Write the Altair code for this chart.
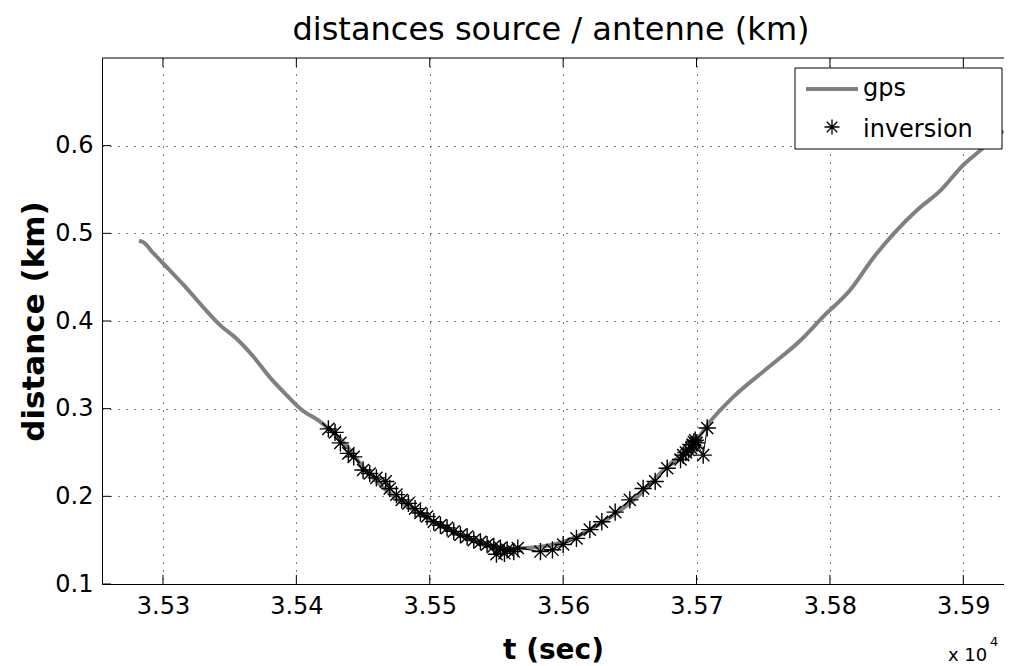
import altair as alt
import pandas as pd

# ---------------- data ----------------
gps_t = [35282, 35285, 35293, 35305, 35318, 35330, 35343, 35355, 35368, 35380,
         35393, 35403, 35418, 35435, 35453, 35478, 35503, 35528, 35553, 35573,
         35600, 35628, 35653, 35678, 35700, 35708, 35728, 35753, 35778, 35795,
         35815, 35833, 35848, 35865, 35883, 35900, 35913, 35930]
gps_d = [0.4915, 0.490, 0.477, 0.458, 0.437, 0.416, 0.395, 0.380, 0.359, 0.336,
         0.315, 0.300, 0.285, 0.262, 0.228, 0.194, 0.171, 0.152, 0.140, 0.141,
         0.148, 0.169, 0.196, 0.234, 0.264, 0.281, 0.314, 0.346, 0.378, 0.405,
         0.435, 0.473, 0.500, 0.526, 0.549, 0.578, 0.595, 0.617]

inv_t = [35424, 35429, 35433, 35439, 35443, 35450, 35455, 35460, 35467, 35470,
         35475, 35479, 35484, 35489, 35493, 35498, 35503, 35508, 35513, 35518,
         35523, 35528, 35533, 35538, 35543, 35548, 35550, 35553, 35556, 35558,
         35563, 35566,
         35583, 35592, 35600, 35610, 35620, 35629, 35639, 35650, 35660, 35669,
         35678, 35688, 35690, 35692, 35694, 35696, 35697, 35698, 35699, 35700,
         35705, 35708]
inv_d = [0.277, 0.273, 0.261, 0.249, 0.245, 0.230, 0.226, 0.221, 0.217, 0.209,
         0.202, 0.196, 0.192, 0.186, 0.181, 0.177, 0.171, 0.167, 0.164, 0.160,
         0.156, 0.154, 0.150, 0.148, 0.145, 0.143, 0.134, 0.141, 0.135, 0.139,
         0.137, 0.141,
         0.137, 0.139, 0.145, 0.152, 0.162, 0.171, 0.182, 0.196, 0.209, 0.217,
         0.232, 0.242, 0.247, 0.250, 0.253, 0.255, 0.259, 0.262, 0.264, 0.261,
         0.247, 0.278]

x_ticks = [35300, 35400, 35500, 35600, 35700, 35800, 35900]
y_ticks = [0.1, 0.2, 0.3, 0.4, 0.5, 0.6]
legend_labels = ["gps", "inversion"]
title_text = ["distances source / antenne (km)"]
x_title = "t (sec)"
y_title = "distance (km)"
exp_base = ["x 10"]
exp_power = ["4"]

# ---------------- layout / style ----------------
W, H = 902, 526
x_dom = [35254.3, 35930.5]
y_dom = [0.1, 0.7]
FONT = "DejaVu Sans"
GRAY = "#808080"
STAR = "M-1,0L1,0M0,-1L0,1M-0.7,-0.7L0.7,0.7M-0.7,0.7L0.7,-0.7"

gps = pd.DataFrame({"t": gps_t, "d": gps_d})
inv = pd.DataFrame({"t": inv_t, "d": inv_d})
xt = pd.DataFrame({"t": x_ticks})
yt = pd.DataFrame({"d": y_ticks})
one = pd.DataFrame({"k": [0]})

xscale = alt.Scale(domain=x_dom, nice=False, zero=False)
yscale = alt.Scale(domain=y_dom, nice=False, zero=False)

xaxis = alt.Axis(values=x_ticks, labelExpr="format(datum.value/10000, '.2f')",
                 title=x_title, grid=True, gridDash=[1, 7], gridColor="black",
                 gridWidth=1, ticks=False, labelPadding=10, labelFontSize=24,
                 labelFont=FONT, labelColor="black", domainColor="black",
                 domainWidth=1, titleFont=FONT, titleFontSize=28,
                 titleFontWeight="bold", titleColor="black",
                 titleBaseline="alphabetic", titleY=74, labelFlush=False)
yaxis = alt.Axis(values=y_ticks, format=".1f", title=y_title, grid=True,
                 gridDash=[1, 7], gridColor="black", gridWidth=1, ticks=False,
                 labelPadding=9, labelFontSize=24, labelFont=FONT,
                 labelColor="black", domainColor="black", domainWidth=1,
                 titleFont=FONT, titleFontSize=31, titleFontWeight="bold",
                 titleColor="black", titleAngle=270, titleBaseline="alphabetic",
                 titleX=-59, labelFlush=False)

X = alt.X("t:Q", scale=xscale, axis=xaxis)
Y = alt.Y("d:Q", scale=yscale, axis=yaxis)

gps_line = alt.Chart(gps).mark_line(color=GRAY, strokeWidth=4,
                                    interpolate="monotone").encode(x=X, y=Y)
inv_line = alt.Chart(inv).mark_line(color="black", strokeWidth=1).encode(x=X, y=Y)
inv_pts = alt.Chart(inv).mark_point(shape=STAR, size=300, filled=False,
                                    color="black", strokeWidth=1.4,
                                    opacity=1).encode(x=X, y=Y)

tick_bottom = alt.Chart(xt).mark_rule(color="black").encode(
    x=X, y=alt.value(H), y2=alt.value(H - 9))
tick_top = alt.Chart(xt).mark_rule(color="black").encode(
    x=X, y=alt.value(0), y2=alt.value(9))
tick_left = alt.Chart(yt).mark_rule(color="black").encode(
    y=Y, x=alt.value(0), x2=alt.value(9))
top_border = alt.Chart(one).mark_rule(color="black").encode(
    x=alt.value(0), x2=alt.value(W), y=alt.value(0))

title_mark = alt.Chart(pd.DataFrame({"label": title_text})).mark_text(
    font=FONT, fontSize=32, align="center", baseline="alphabetic", color="black").encode(
    text="label:N", x=alt.value(W / 2 - 2), y=alt.value(-18))

leg_box = alt.Chart(one).mark_rect(fill="white", stroke="black", strokeWidth=1).encode(
    x=alt.value(693), x2=alt.value(900), y=alt.value(10), y2=alt.value(91))
leg_line = alt.Chart(one).mark_rule(color=GRAY, strokeWidth=4).encode(
    x=alt.value(704), x2=alt.value(756), y=alt.value(31))
leg_star = alt.Chart(one).mark_point(shape=STAR, size=225, filled=False,
                                     color="black", strokeWidth=1.3, opacity=1).encode(
    x=alt.value(730), y=alt.value(69))
leg_t1 = alt.Chart(pd.DataFrame({"label": [legend_labels[0]]})).mark_text(
    font=FONT, fontSize=24, align="left", baseline="alphabetic", color="black").encode(
    text="label:N", x=alt.value(761), y=alt.value(38))
leg_t2 = alt.Chart(pd.DataFrame({"label": [legend_labels[1]]})).mark_text(
    font=FONT, fontSize=24, align="left", baseline="alphabetic", color="black").encode(
    text="label:N", x=alt.value(761), y=alt.value(79))

exp_t1 = alt.Chart(pd.DataFrame({"label": exp_base})).mark_text(
    font=FONT, fontSize=18, align="left", baseline="alphabetic", color="black").encode(
    text="label:N", x=alt.value(846), y=alt.value(603))
exp_t2 = alt.Chart(pd.DataFrame({"label": exp_power})).mark_text(
    font=FONT, fontSize=13, align="left", baseline="alphabetic", color="black").encode(
    text="label:N", x=alt.value(888), y=alt.value(588))

chart = alt.layer(
    gps_line, inv_line, inv_pts, tick_bottom, tick_top, tick_left, top_border,
    leg_box, leg_line, leg_star, leg_t1, leg_t2, exp_t1, exp_t2, title_mark
).properties(
    width=W, height=H,
    padding={"left": 94, "top": 50, "right": 0, "bottom": 82},
    autosize=alt.AutoSizeParams(type="none"),
    background="white",
).configure_view(stroke=None)

chart.save("out.html", embed_options={"renderer": "svg", "actions": False})
